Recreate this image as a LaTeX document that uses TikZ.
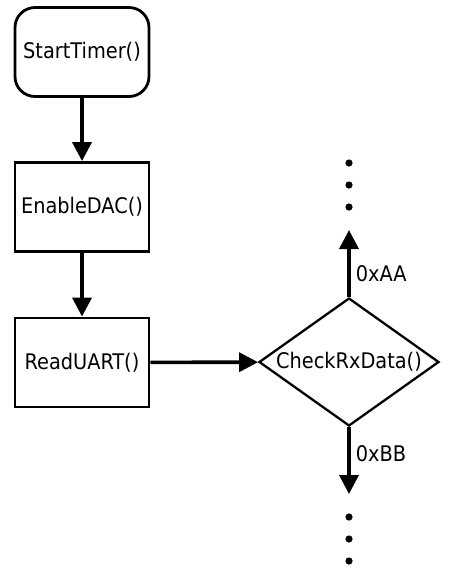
\documentclass[tikz,border=0pt]{standalone}
\usepackage{fontspec}
\setmainfont{DejaVu Sans Condensed}
\usetikzlibrary{arrows.meta,shapes.geometric}

\begin{document}
\begin{tikzpicture}[x=1pt,y=-1pt,>={Triangle[length=19pt,width=19pt]},
    font=\fontsize{21.5}{25}\selectfont,
    block/.style={draw,line width=2.8pt,minimum width=134pt,minimum height=89pt,inner sep=0pt},
    start/.style={block,rounded corners=20pt},
    decision/.style={draw,diamond,line width=2.3pt,minimum width=180pt,minimum height=128pt,inner sep=0pt,aspect=1.4},
    flow/.style={->,line width=3.6pt}]
    \useasboundingbox (0,0) rectangle (450,574);
    \node[start](start)at(82,52){StartTimer()};
    \node[block](dac)at(82,207){EnableDAC()};
    \node[block](uart)at(82,362.5){ReadUART()};
    \node[decision,label=center:CheckRxData()](check)at(349,362){};
    \coordinate(up)at(349,230);
    \coordinate(down)at(349,494);
    \draw[flow](start)--(dac);
    \draw[flow](dac)--(uart);
    \draw[flow](uart)--(check);
    \draw[flow](check.north)--node[right,pos=0.34,inner sep=5pt]{0xAA}(up);
    \draw[flow](check.south)--node[right,pos=0.39,inner sep=5pt]{0xBB}(down);
    % dots
    \fill(349,163)circle(3.6) (349,185)circle(3.6) (349,207)circle(3.6);
    \fill(349,517)circle(3.6) (349,539)circle(3.6) (349,561)circle(3.6);
\end{tikzpicture}
\end{document}
